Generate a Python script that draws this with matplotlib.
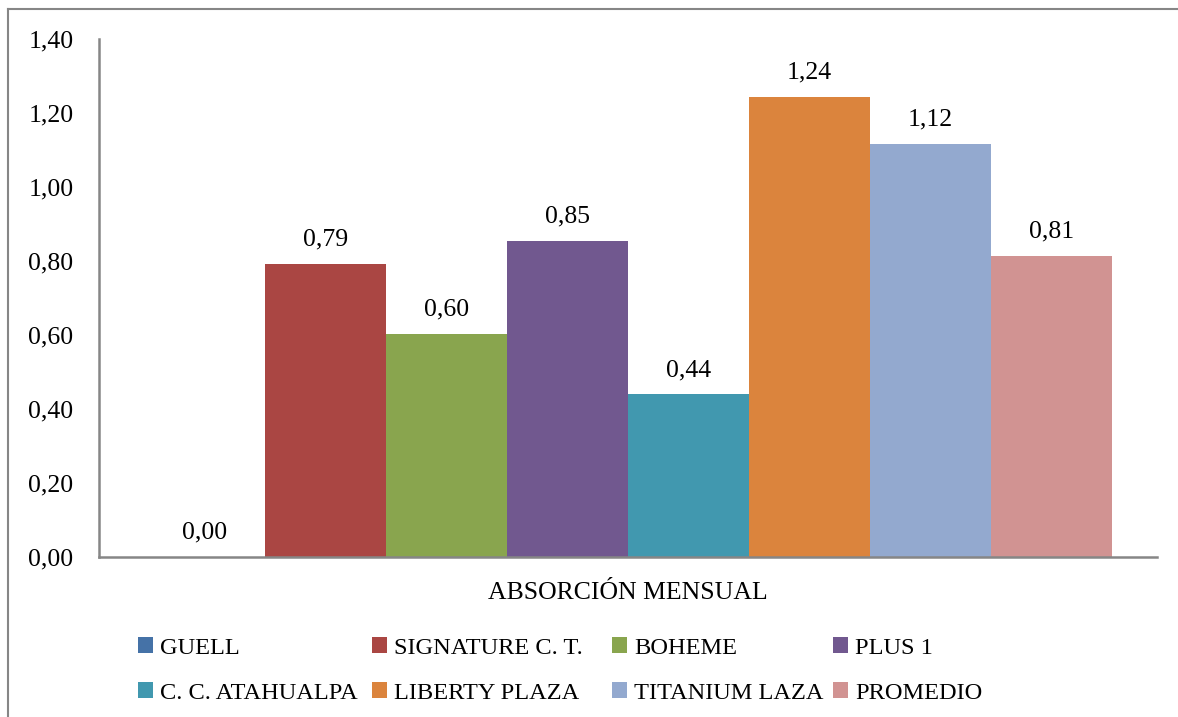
import matplotlib
matplotlib.use("Agg")
import matplotlib.pyplot as plt
import numpy as np
from matplotlib.lines import Line2D

# --- Data ---
CATEGORY = ["ABSORCIÓN MENSUAL"]
SERIES = ["GUELL", "SIGNATURE C. T.", "BOHEME", "PLUS 1",
          "C. C. ATAHUALPA", "LIBERTY PLAZA", "TITANIUM LAZA", "PROMEDIO"]
VALUES = [0.00, 0.792, 0.603, 0.854, 0.440, 1.244, 1.116, 0.814]
COLORS = ["#4572A7", "#AA4643", "#89A54E", "#71588F",
          "#4198AF", "#DB843D", "#93A9CF", "#D19392"]
YTICKS = [0.0, 0.2, 0.4, 0.6, 0.8, 1.0, 1.2, 1.4]
YTICK_LABELS = ["0,00", "0,20", "0,40", "0,60", "0,80", "1,00", "1,20", "1,40"]

FONT = "Liberation Serif"
FS = 18.5
LEG_FS = 17.6
GRAY = "#868686"

plt.rcParams["font.family"] = [FONT, "DejaVu Serif"]

W, H = 1178, 717
fig = plt.figure(figsize=(W / 100, H / 100), dpi=100)
ax = fig.add_axes([99 / W, (H - 557) / H, 1058 / W, 518 / H])

n = len(SERIES)
group = 0.914
bw = group / n
x0 = np.arange(len(CATEGORY))
handles = []
for i, (name, val, col) in enumerate(zip(SERIES, VALUES, COLORS)):
    xpos = x0 + (i - (n - 1) / 2) * bw
    b = ax.bar(xpos, [val], width=bw, color=col, linewidth=0, label=name)
    handles.append(b)
    ax.annotate(f"{val:.2f}".replace(".", ","), (xpos[0], val),
                xytext=(0, 9.5), textcoords="offset points",
                ha="center", va="bottom", fontsize=FS, color="black")

ax.set_xlim(-0.5, 0.5)
ax.set_ylim(0, 1.4)
ax.set_yticks(YTICKS)
ax.set_yticklabels(YTICK_LABELS, fontsize=FS)
ax.set_xticks(x0)
ax.set_xticklabels(CATEGORY, fontsize=FS)
ax.tick_params(axis="y", length=0, pad=18.5)
ax.tick_params(axis="x", length=0, pad=18)
for s in ["top", "right"]:
    ax.spines[s].set_visible(False)
for s in ["left", "bottom"]:
    ax.spines[s].set_color(GRAY)
    ax.spines[s].set_linewidth(1.8)

# legend: one small legend per column, two rows each
col_x = [138, 372, 612, 833]
for c, xpx in enumerate(col_x):
    idx = [c, c + 4]
    fig.legend([handles[k] for k in idx], [SERIES[k] for k in idx],
               loc="upper left", bbox_to_anchor=(xpx / W, (H - 637) / H),
               ncol=1, frameon=False, fontsize=LEG_FS,
               handlelength=0.62, handleheight=0.62, handletextpad=0.3,
               labelspacing=0.98, borderpad=0, borderaxespad=0)

# outer chart frame (cropped on right and bottom)
fig.add_artist(Line2D([8 / W, 8 / W], [0, (H - 9) / H], color=GRAY, lw=1.5,
                      transform=fig.transFigure))
fig.add_artist(Line2D([8 / W, 1], [(H - 9) / H, (H - 9) / H], color=GRAY, lw=1.5,
                      transform=fig.transFigure))

fig.savefig("out.png", dpi=100)
